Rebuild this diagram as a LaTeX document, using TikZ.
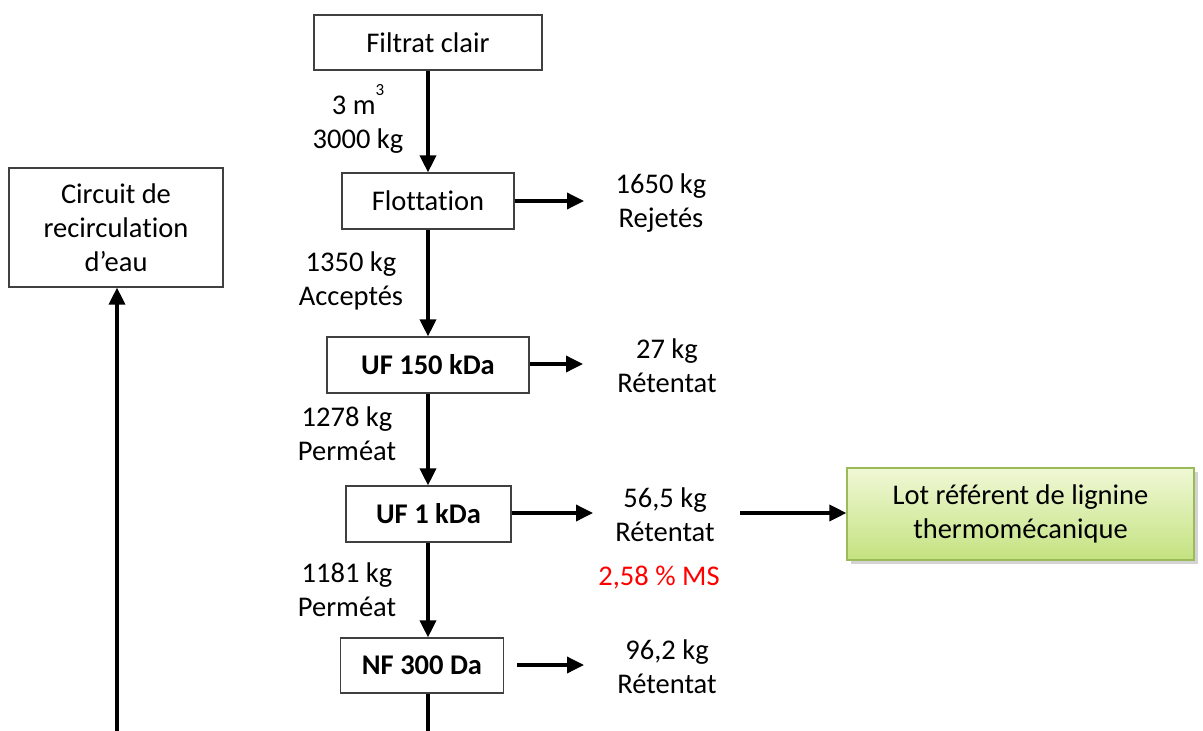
\documentclass[tikz,border=0pt]{standalone}
\usepackage{fontspec}
\setmainfont{Carlito}[RawFeature={-liga}]
\usetikzlibrary{arrows.meta,shadows}
\begin{document}
\begin{tikzpicture}[x=1pt,y=-1pt,
  every node/.style={font=\fontsize{28.5}{34}\selectfont},
  procbox/.style={draw=black!75,line width=1.2pt,fill=white,inner sep=0pt},
  lbl/.style={align=center,inner sep=0pt},
  flow/.style={line width=3.5pt,-{Triangle[length=17pt,width=16pt]}},
  greenbox/.style={draw={rgb,255:red,155;green,187;blue,89},line width=1.2pt,inner sep=0pt,
    top color={rgb,255:red,240;green,248;blue,214},bottom color={rgb,255:red,196;green,226;blue,128},
    drop shadow={opacity=0.35,shadow xshift=4pt,shadow yshift=-4pt}}
]
\useasboundingbox (0,0) rectangle (1203,731);

% boxes
\node[procbox,minimum width=228pt,minimum height=55pt] (filtrat) at (428,42.5) {Filtrat clair};
\node[procbox,minimum width=172pt,minimum height=56pt] (flot) at (428,201) {Flottation};
\node[procbox,minimum width=202pt,minimum height=56pt,font=\fontsize{28.5}{34}\selectfont\bfseries] (uf150) at (428,365) {UF 150 kDa};
\node[procbox,minimum width=165pt,minimum height=56pt,font=\fontsize{28.5}{34}\selectfont\bfseries] (uf1) at (428.5,514) {UF 1 kDa};
\node[procbox,minimum width=163pt,minimum height=55pt,font=\fontsize{28.5}{34}\selectfont\bfseries] (nf) at (422,665.5) {NF 300 Da};
\node[procbox,minimum width=214pt,minimum height=119pt,align=center] (circ) at (116,227.5) {Circuit de\\recirculation\\d’eau};
\node[greenbox,minimum width=347pt,minimum height=92pt,align=center] (lot) at (1020.5,514) {Lot référent de lignine\\thermomécanique};

% side outputs
\node[lbl] (rej) at (661,203) {1650 kg\\Rejetés};
\node[lbl] (r150) at (667,366) {27 kg\\Rétentat};
\node[lbl] (r1) at (665,515) {56,5 kg\\Rétentat};
\node[lbl,text={rgb,255:red,255;green,0;blue,0}] (ms) at (659,578) {2,58 \% MS};
\node[lbl] (rnf) at (667,667) {96,2 kg\\Rétentat};

% flow labels
\node[lbl] (l1) at (358,119) {3 m\raisebox{19pt}{\fontsize{17}{17}\selectfont 3}\\3000 kg};
\node[lbl] (l2) at (351,281) {1350 kg\\Acceptés};
\node[lbl] (l3) at (347,434) {1278 kg\\Perméat};
\node[lbl] (l4) at (347,590) {1181 kg\\Perméat};

% coordinates
\coordinate (bot) at (428,731);
\coordinate (circbot) at (117,731);
\coordinate (e1) at (584,201);
\coordinate (e2) at (583,364);
\coordinate (e3) at (593,513);
\coordinate (e4) at (584,665);
\coordinate (s5) at (740,513);

% connectors
\draw[flow] (filtrat.south -| 428,0) -- (flot.north -| 428,0);
\draw[flow] (flot.south -| 428,0) -- (uf150.north -| 428,0);
\draw[flow] (uf150.south -| 428,0) -- (uf1.north -| 428,0);
\draw[flow] (uf1.south -| 428,0) -- (nf.north -| 428,0);
\draw[line width=3.5pt] (nf.south -| 428,0) -- (bot);
\draw[flow] (flot.east) -- (e1);
\draw[flow] (uf150.east |- e2) -- (e2);
\draw[flow] (uf1.east |- e3) -- (e3);
\draw[flow] (nf.east |- e4) ++(13,0) -- (e4);
\draw[flow] (s5) -- (lot.west |- s5);
\draw[flow] (circbot) -- (circ.south -| circbot);
\end{tikzpicture}
\end{document}
